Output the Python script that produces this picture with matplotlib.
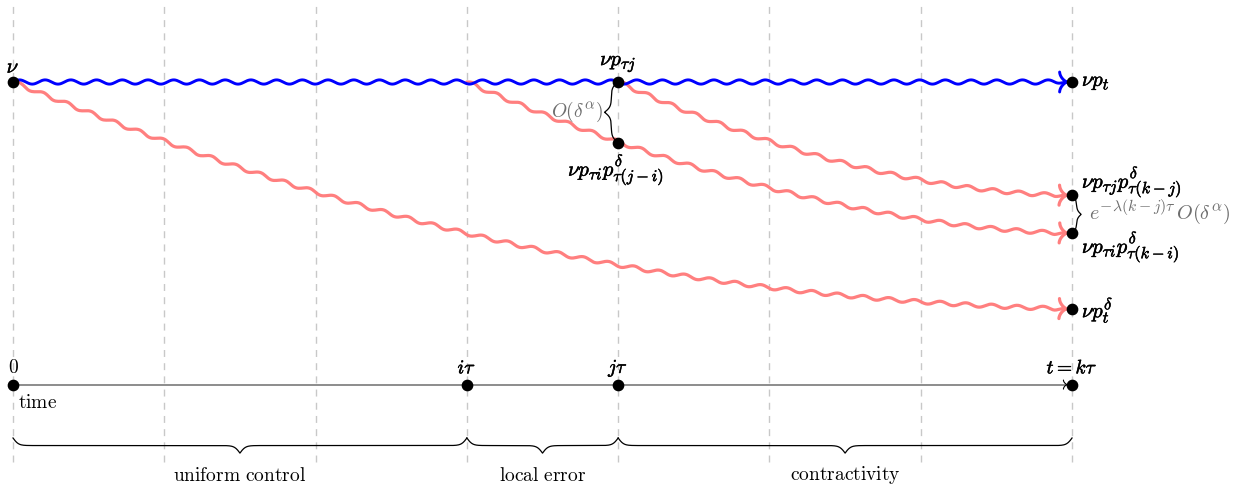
import numpy as np
import matplotlib.pyplot as plt
import matplotlib.patheffects as pe
import matplotlib._mathtext as mathtext_internals

plt.rcParams['mathtext.fontset'] = 'cm'
# TeX uses optically sized script fonts, which look bigger than 0.7x
mathtext_internals.SHRINK_FACTOR = 0.78

# time grid, in units of tau
grid_cols = np.arange(8)
tick_pos = [0, 3, 4, 7]
tick_labels = ['$0$', r'$i\tau$', r'$j\tau$', r'$t = k\tau$']

# brace groups under the time axis
groups = [(0, 3), (3, 4), (4, 7)]
group_labels = ['uniform control', 'local error', 'contractivity']

# levels of the trajectories (exact flow sits at 0)
lvl_exact = 0.0
lvl_local = -0.4
lvl_kj = -0.75
lvl_ki = -1.0
lvl_t = -1.5
lvl_axis = -2.0

# perturbed flows: start, two control points, end
red_curves = [
    [(0, 0), (1.9, -0.78), (3.9, -1.42), (7, lvl_t)],
    [(3, 0), (3.99, -0.44), (5.53, -0.965), (7, lvl_ki)],
    [(4, 0), (4.79, -0.36), (5.86, -0.73), (7, lvl_kj)],
]

dots = [(0, lvl_exact), (4, lvl_exact), (4, lvl_local), (7, lvl_exact),
        (7, lvl_kj), (7, lvl_ki), (7, lvl_t)]

BLUE = '#0000ff'
RED = '#ff7f7f'
GRAY = '#6e6e6e'
PX = 151.29  # pixels per tau
FS = 14
FSM = 15


def bezier(pts, n=800):
    p = np.array(pts, dtype=float)
    t = np.linspace(0, 1, n)[:, None]
    c = ((1 - t) ** 3) * p[0] + 3 * ((1 - t) ** 2) * t * p[1] + 3 * (1 - t) * t ** 2 * p[2] + t ** 3 * p[3]
    return c[:, 0], c[:, 1]


def snake(x, y, amp, period=0.17):
    dx = np.gradient(x)
    dy = np.gradient(y)
    n = np.hypot(dx, dy)
    nx, ny = -dy / n, dx / n
    s = np.concatenate([[0], np.cumsum(np.hypot(np.diff(x), np.diff(y)))])
    env = np.clip((s[-1] - s) / (period * 0.5), 0, 1)
    off = amp * np.sin(2 * np.pi * s / period) * env
    return x + off * nx, y + off * ny


def arrow_tip(ax, x, y, ang, color, lw, L=0.05, W=0.066, z=3):
    t = np.linspace(0, 1, 40)[:, None]
    ca, sa = np.cos(ang), np.sin(ang)
    for sg in (1, -1):
        p = np.array([[-L, sg * W], [-L * 0.95, sg * W * 0.45], [-L * 0.3, sg * W * 0.05], [0, 0]])
        c = ((1 - t) ** 3) * p[0] + 3 * ((1 - t) ** 2) * t * p[1] + 3 * (1 - t) * t ** 2 * p[2] + t ** 3 * p[3]
        xr = x + c[:, 0] * ca - c[:, 1] * sa
        yr = y + c[:, 0] * sa + c[:, 1] * ca
        ax.plot(xr, yr, color=color, lw=lw, solid_capstyle='round', zorder=z)


def brace(ax, a, b, pos, h, sign=-1, vertical=False, beta=55):
    L = abs(b - a)
    u = np.linspace(0, L / 2, 300)
    v = 1 / (1 + np.exp(-beta * u)) + 1 / (1 + np.exp(-beta * (u - L / 2))) - 0.5
    uu = np.concatenate([u, L - u[::-1]])
    vv = np.concatenate([v, v[::-1]])
    along = min(a, b) + uu
    across = pos + sign * h * vv
    if vertical:
        ax.plot(across, along, color='black', lw=0.9, zorder=3)
    else:
        ax.plot(along, across, color='black', lw=0.9, zorder=3)


fig = plt.figure(figsize=(12.56, 4.9), dpi=100)
ax = fig.add_axes([0, 0, 1, 1])
ax.set_xlim(-13 / PX, (1256 - 13) / PX)
ax.set_ylim(-(490 - 82) / PX, 82 / PX)
ax.axis('off')

bold = [pe.withStroke(linewidth=0.35, foreground='black')]

# grid
ax.vlines(grid_cols, -2.51, 0.53, colors='#c8c8c8', linestyles=(0, (5, 4.5)), lw=1.0, zorder=0)

# perturbed flows
tip_gap = 0.032
for pts in red_curves:
    x, y = bezier(pts)
    keep = x <= pts[-1][0] - tip_gap
    x, y = x[keep], y[keep]
    ang = np.arctan2(y[-1] - y[-6], x[-1] - x[-6])
    xs, ys = snake(x, y, amp=0.012)
    ax.plot(xs, ys, color=RED, lw=2.3, solid_capstyle='round', zorder=2)
    arrow_tip(ax, x[-1], y[-1], ang, RED, 2.3, z=2)

# exact flow
xb = np.linspace(0, 7 - tip_gap, 1500)
yb = np.full_like(xb, lvl_exact)
xs, ys = snake(xb, yb, amp=0.014)
ax.plot(xs, ys, color=BLUE, lw=2.1, solid_capstyle='round', zorder=3)
arrow_tip(ax, xb[-1], lvl_exact, 0.0, BLUE, 2.1, z=3)

# time axis
ax.plot([0, 7 - tip_gap], [lvl_axis, lvl_axis], color=GRAY, lw=1.1, zorder=2)
arrow_tip(ax, 7 - tip_gap, lvl_axis, 0.0, 'black', 0.8, L=0.025, W=0.03, z=3)

dx, dy = zip(*dots)
ax.plot(dx, dy, 'o', color='black', ms=7.4, zorder=5, ls='none')
ax.plot(tick_pos, [lvl_axis] * len(tick_pos), 'o', color='black', ms=7.4, zorder=5, ls='none')

for p, lab in zip(tick_pos, tick_labels):
    ax.text(p, lvl_axis + 0.11, lab, ha='center', va='center', fontsize=FS,
            path_effects=None if p == 0 else bold)
ax.text(0.03, lvl_axis - 0.12, r'$\mathrm{time}$', ha='left', va='center', fontsize=FS)

# braces under the axis
for (a, b), lab in zip(groups, group_labels):
    brace(ax, a, b, -2.353, 0.1)
    ax.text((a + b) / 2, -2.6, r'$\mathrm{' + lab.replace(' ', r'\ ') + '}$',
            ha='center', va='center', fontsize=FS)

# trajectory labels
ax.text(0, 0.1, r'$\nu$', ha='center', va='center', fontsize=FSM, path_effects=bold)
ax.text(4, 0.12, r'$\nu p_{\tau j}$', ha='center', va='center', fontsize=FSM, path_effects=bold)
ax.text(3.986, -0.585, r'$\nu p_{\tau i} p^{\delta}_{\tau (j-i)}$', ha='center', va='center',
        fontsize=FSM, path_effects=bold)
ax.text(7.065, lvl_exact, r'$\nu p_t$', ha='left', va='center', fontsize=FSM, path_effects=bold)
ax.text(7.065, -0.665, r'$\nu p_{\tau j} p^{\delta}_{\tau (k-j)}$', ha='left', va='center',
        fontsize=FSM, path_effects=bold)
ax.text(7.065, -1.095, r'$\nu p_{\tau i} p^{\delta}_{\tau (k-i)}$', ha='left', va='center',
        fontsize=FSM, path_effects=bold)
ax.text(7.065, -1.51, r'$\nu p^{\delta}_t$', ha='left', va='center', fontsize=FSM, path_effects=bold)

# error braces
brace(ax, lvl_local, lvl_exact, 4, 0.09, sign=-1, vertical=True)
ax.text(3.9, -0.2, r'$O(\delta^{\alpha})$', ha='right', va='center', fontsize=FS, color=GRAY)
brace(ax, lvl_ki, lvl_kj, 7, 0.06, sign=1, vertical=True, beta=70)
ax.text(7.11, -0.86, r'$e^{-\lambda (k-j)\tau}\, O(\delta^{\alpha})$', ha='left', va='center',
        fontsize=14.5, color=GRAY)

fig.savefig('out.png', dpi=100)
